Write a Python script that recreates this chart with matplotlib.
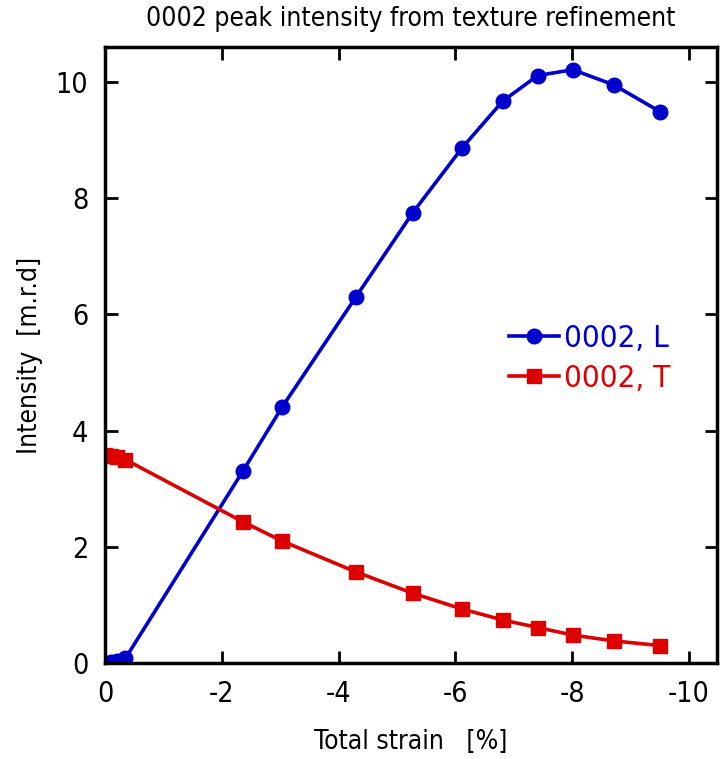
"""0002 peak intensity from texture refinement vs total strain."""

import matplotlib

matplotlib.use("Agg")
import matplotlib.pyplot as plt

strain = [0.0, -0.1, -0.2, -0.35, -2.36, -3.03, -4.29, -5.27, -6.11, -6.81, -7.41, -8.01, -8.71, -9.50]
intensity_L = [0.0, 0.01, 0.03, 0.08, 3.30, 4.40, 6.29, 7.75, 8.86, 9.67, 10.11, 10.21, 9.95, 9.49]
intensity_T = [3.58, 3.57, 3.55, 3.50, 2.43, 2.10, 1.57, 1.20, 0.93, 0.74, 0.61, 0.48, 0.38, 0.30]

x_ticks = [0, -2, -4, -6, -8, -10]
y_ticks = [0, 2, 4, 6, 8, 10]

BLUE = "#0000cc"
RED = "#dd0000"

plt.rcParams["font.family"] = ["DejaVu Sans"]
plt.rcParams["font.stretch"] = "condensed"

fig = plt.figure(figsize=(7.21, 7.59), dpi=100)
ax = fig.add_axes([0.1456, 0.1265, 0.849, 0.8115])

ax.plot(strain, intensity_L, color=BLUE, lw=2.6, marker="o", ms=10.5, label="0002, L")
ax.plot(strain, intensity_T, color=RED, lw=2.6, marker="s", ms=10, label="0002, T")

ax.set_xlim(0, -10.48)
ax.set_ylim(0, 10.6)
ax.set_xticks(x_ticks)
ax.set_yticks(y_ticks)
ax.set_xticklabels([str(t) for t in x_ticks])
ax.tick_params(direction="in", length=9, width=2, top=True, right=True,
               labelsize=20.5, pad=12)
for s in ax.spines.values():
    s.set_linewidth(2.5)

ax.set_xlabel("Total strain   [%]", fontsize=19, labelpad=15)
ax.set_ylabel("Intensity  [m.r.d]", fontsize=19, labelpad=9)
ax.set_title("0002 peak intensity from texture refinement", fontsize=19, pad=15)

leg = ax.legend(loc="center left", bbox_to_anchor=(0.64, 0.495), frameon=False,
                fontsize=22.5, handlelength=1.6, handletextpad=0.15, labelspacing=0.35,
                borderaxespad=0)
for text, c in zip(leg.get_texts(), [BLUE, RED]):
    text.set_color(c)

fig.savefig("out.png", dpi=100)
